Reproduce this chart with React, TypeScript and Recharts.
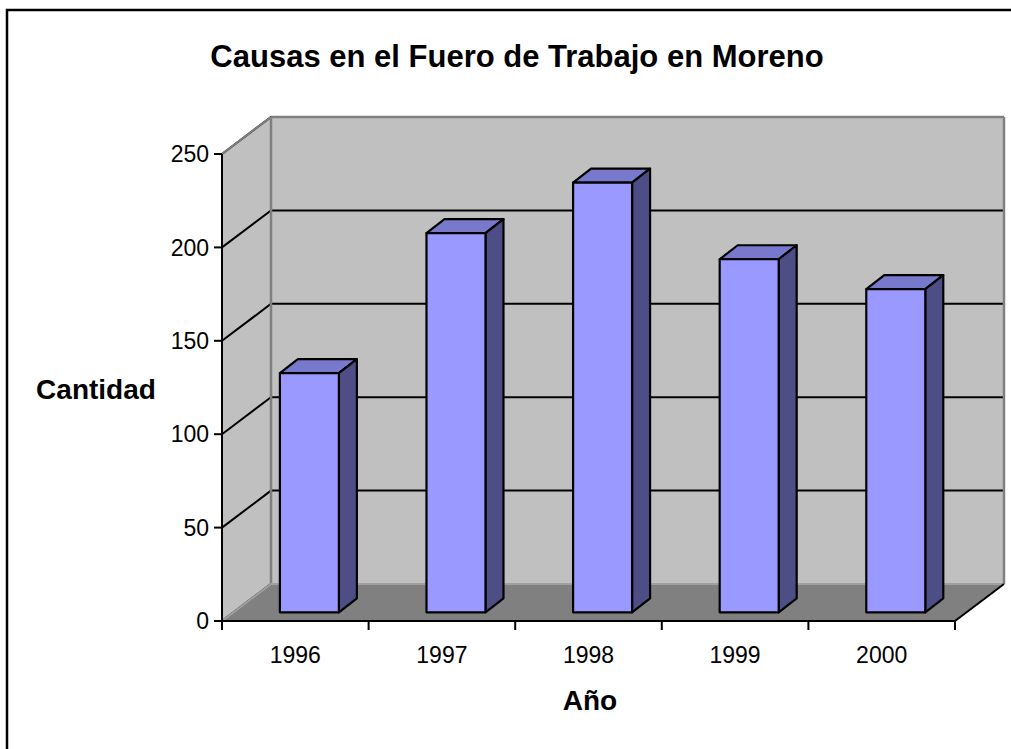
import React from 'react';
import { BarChart, Bar, XAxis, YAxis, CartesianGrid, ReferenceArea } from 'recharts';

const years = ['1996', '1997', '1998', '1999', '2000'];
const causas = [128, 203, 230, 189, 173];
const yTicks = [0, 50, 100, 150, 200, 250];
const title = 'Causas en el Fuero de Trabajo en Moreno';
const yTitle = 'Cantidad';
const xTitle = 'Año';

const data = years.map((year, i) => ({ year, causas: causas[i] }));

const W = 1011;
const H = 749;
const DX = 49; // wall depth offset
const DY = -37;
const BSX = 13.9; // bar placement within depth
const BSY = -8.7;
const BDX = 18; // bar depth
const BDY = -14;
const FONT = '"Liberation Sans", Arial, sans-serif';

const WallShape = (p: any) => {
  const { x, y, width: w, height: h } = p;
  return (
    <g>
      <rect x={x + DX} y={y + DY} width={w} height={h} fill="#c0c0c0" />
      <polygon
        points={`${x},${y} ${x + DX},${y + DY} ${x + DX},${y + h + DY} ${x},${y + h}`}
        fill="#c0c0c0"
      />
    </g>
  );
};

const FloorShape = (p: any) => {
  const { x, y, width: w, height: h } = p;
  const g = '#808080';
  return (
    <g>
      <polygon
        points={`${x},${y + h} ${x + DX},${y + h + DY} ${x + w + DX},${y + h + DY} ${x + w},${y + h}`}
        fill="#808080"
      />
      <line x1={x} y1={y} x2={x + DX} y2={y + DY} stroke={g} strokeWidth={2} />
      <line x1={x + DX} y1={y + DY} x2={x + w + DX} y2={y + DY} stroke={g} strokeWidth={2.5} />
      <line x1={x + w + DX} y1={y + DY} x2={x + w + DX} y2={y + h + DY} stroke={g} strokeWidth={2.5} />
      <line x1={x + DX} y1={y + DY} x2={x + DX} y2={y + h + DY} stroke={g} strokeWidth={2.5} />
      <line x1={x} y1={y + h} x2={x + DX} y2={y + h + DY} stroke="#a0a0a0" strokeWidth={2} />
      <line x1={x + DX} y1={y + h + DY} x2={x + w + DX} y2={y + h + DY} stroke="#a0a0a0" strokeWidth={2} />
      <line x1={x + w} y1={y + h} x2={x + w + DX} y2={y + h + DY} stroke="#000" strokeWidth={2} />
    </g>
  );
};

const GridLine = (p: any) => {
  const { x1, y1, x2 } = p;
  return (
    <polyline
      key={p.key ?? `${y1}`}
      points={`${x1},${y1} ${x1 + DX},${y1 + DY} ${x2 + DX},${y1 + DY}`}
      fill="none"
      stroke="#000"
      strokeWidth={2}
    />
  );
};

const Box3D = (p: any) => {
  const { x, y, width: w, height: h } = p;
  const fx = x + BSX;
  const fy = y + BSY;
  return (
    <g strokeLinejoin="round">
      <polygon
        points={`${fx},${fy} ${fx + BDX},${fy + BDY} ${fx + w + BDX},${fy + BDY} ${fx + w},${fy}`}
        fill="#7878cc"
        stroke="#000"
        strokeWidth={2.2}
      />
      <polygon
        points={`${fx + w},${fy} ${fx + w + BDX},${fy + BDY} ${fx + w + BDX},${fy + h + BDY} ${fx + w},${fy + h}`}
        fill="#4e4e86"
        stroke="#000"
        strokeWidth={2.2}
      />
      <rect x={fx} y={fy} width={w} height={h} fill="#9999ff" stroke="#000" strokeWidth={2.2} />
    </g>
  );
};

const XTick = (p: any) => {
  const { x, y, payload, index, width } = p;
  const bw = (typeof width === 'number' && width > 0 ? width : 733) / years.length;
  return (
    <g>
      <line x1={x - bw / 2} y1={y} x2={x - bw / 2} y2={y + 9} stroke="#000" strokeWidth={2} />
      {index === years.length - 1 && (
        <line x1={x + bw / 2} y1={y} x2={x + bw / 2} y2={y + 9} stroke="#000" strokeWidth={2} />
      )}
      <text x={x} y={y + 42} textAnchor="middle" fontSize={23} fontFamily={FONT} fill="#000">
        {payload.value}
      </text>
    </g>
  );
};

export default function App() {
  return (
    <div style={{ position: 'absolute', left: 0, top: 0, width: W, height: H, background: '#fff' }}>
      <BarChart
        width={W}
        height={H}
        data={data}
        margin={{ top: 154, right: 56, bottom: 88, left: 162 }}
        barCategoryGap="30%"
      >
        <ReferenceArea y1={0} y2={250} ifOverflow="visible" shape={WallShape} zIndex={-200} />
        <CartesianGrid vertical={false} horizontal={GridLine} zIndex={-150} />
        <ReferenceArea y1={0} y2={250} ifOverflow="visible" shape={FloorShape} zIndex={-120} />
        <XAxis
          dataKey="year"
          height={40}
          interval={0}
          tickLine={false}
          tickSize={0}
          tickMargin={0}
          axisLine={{ stroke: '#000', strokeWidth: 2 }}
          tick={XTick}
        />
        <YAxis
          width={60}
          domain={[0, 250]}
          ticks={yTicks}
          interval={0}
          tickSize={8}
          tickMargin={5}
          axisLine={{ stroke: '#000', strokeWidth: 2 }}
          tickLine={{ stroke: '#000', strokeWidth: 2 }}
          tick={{ fontSize: 23, fill: '#000', fontFamily: FONT }}
        />
        <Bar dataKey="causas" shape={Box3D} isAnimationActive={false} />
      </BarChart>
      <svg
        width={W}
        height={H}
        style={{ position: 'absolute', left: 0, top: 0, pointerEvents: 'none' }}
      >
        <rect x={7} y={10} width={1100} height={900} fill="none" stroke="#000" strokeWidth={2.5} />
        <text x={517} y={67} textAnchor="middle" fontSize={31} fontWeight="bold" fontFamily={FONT} fill="#000">
          {title}
        </text>
        <text x={96} y={399} textAnchor="middle" fontSize={28} fontWeight="bold" fontFamily={FONT} fill="#000">
          {yTitle}
        </text>
        <text x={590} y={710} textAnchor="middle" fontSize={28} fontWeight="bold" fontFamily={FONT} fill="#000">
          {xTitle}
        </text>
      </svg>
    </div>
  );
}
